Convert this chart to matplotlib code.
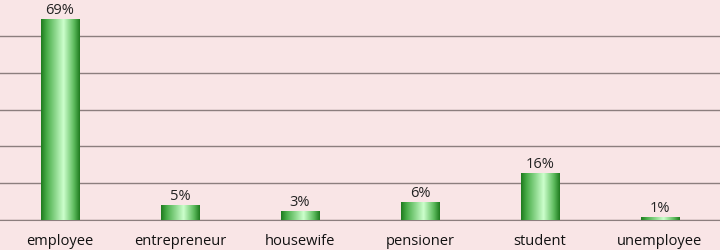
import numpy as np
import matplotlib.pyplot as plt
from matplotlib.colors import LinearSegmentedColormap

categories = ['employee', 'entrepreneur', 'housewife', 'pensioner', 'student', 'unemployee']
shares = [69, 5, 3, 6, 16, 1]
labels = ['69%', '5%', '3%', '6%', '16%', '1%']

plt.rcParams['font.family'] = ['Open Sans', 'DejaVu Sans']

fig = plt.figure(figsize=(7.2, 2.51), dpi=100)
fig.patch.set_facecolor('#F9E5E6')
ax = fig.add_axes([0, 30 / 251, 1, 221 / 251])
ax.set_facecolor('#F9E5E6')

x = np.arange(len(categories))
ymax = 76
width = 0.32
bars = ax.bar(x, shares, width=width, color='none', edgecolor='none', zorder=3)

# cylinder-like horizontal shading
cmap = LinearSegmentedColormap.from_list('cyl', [
    (0.0, '#1E7A1E'), (0.15, '#4AAE4A'), (0.58, '#CCFFCC'),
    (0.85, '#5CBA5C'), (1.0, '#1E7A1E')])
grad = np.linspace(0, 1, 256).reshape(1, -1)
for b in bars:
    x0 = b.get_x()
    ax.imshow(grad, cmap=cmap, aspect='auto', zorder=3,
              extent=[x0, x0 + b.get_width(), 0, b.get_height()])

for xi, v, lab in zip(x, shares, labels):
    ax.annotate(lab, (xi, v), xytext=(0, 1.5), textcoords='offset points',
                ha='center', va='bottom', fontsize=10.5, color='#222222')

ax.set_xlim(-0.5, len(categories) - 0.5)
ax.set_ylim(0, ymax)
ax.set_yticks(np.arange(0, ymax, ymax / 6))
ax.yaxis.grid(True, color='#8C7E7E', linewidth=1)
ax.set_axisbelow(True)
ax.tick_params(axis='y', left=False, labelleft=False)
ax.tick_params(axis='x', bottom=False, labelsize=10.5, pad=6, labelcolor='#111111')
ax.set_xticks(x)
ax.set_xticklabels(categories)
for s in ['top', 'left', 'right']:
    ax.spines[s].set_visible(False)
ax.spines['bottom'].set_color('#8C7E7E')

fig.savefig('out.png', dpi=100, facecolor=fig.get_facecolor())
